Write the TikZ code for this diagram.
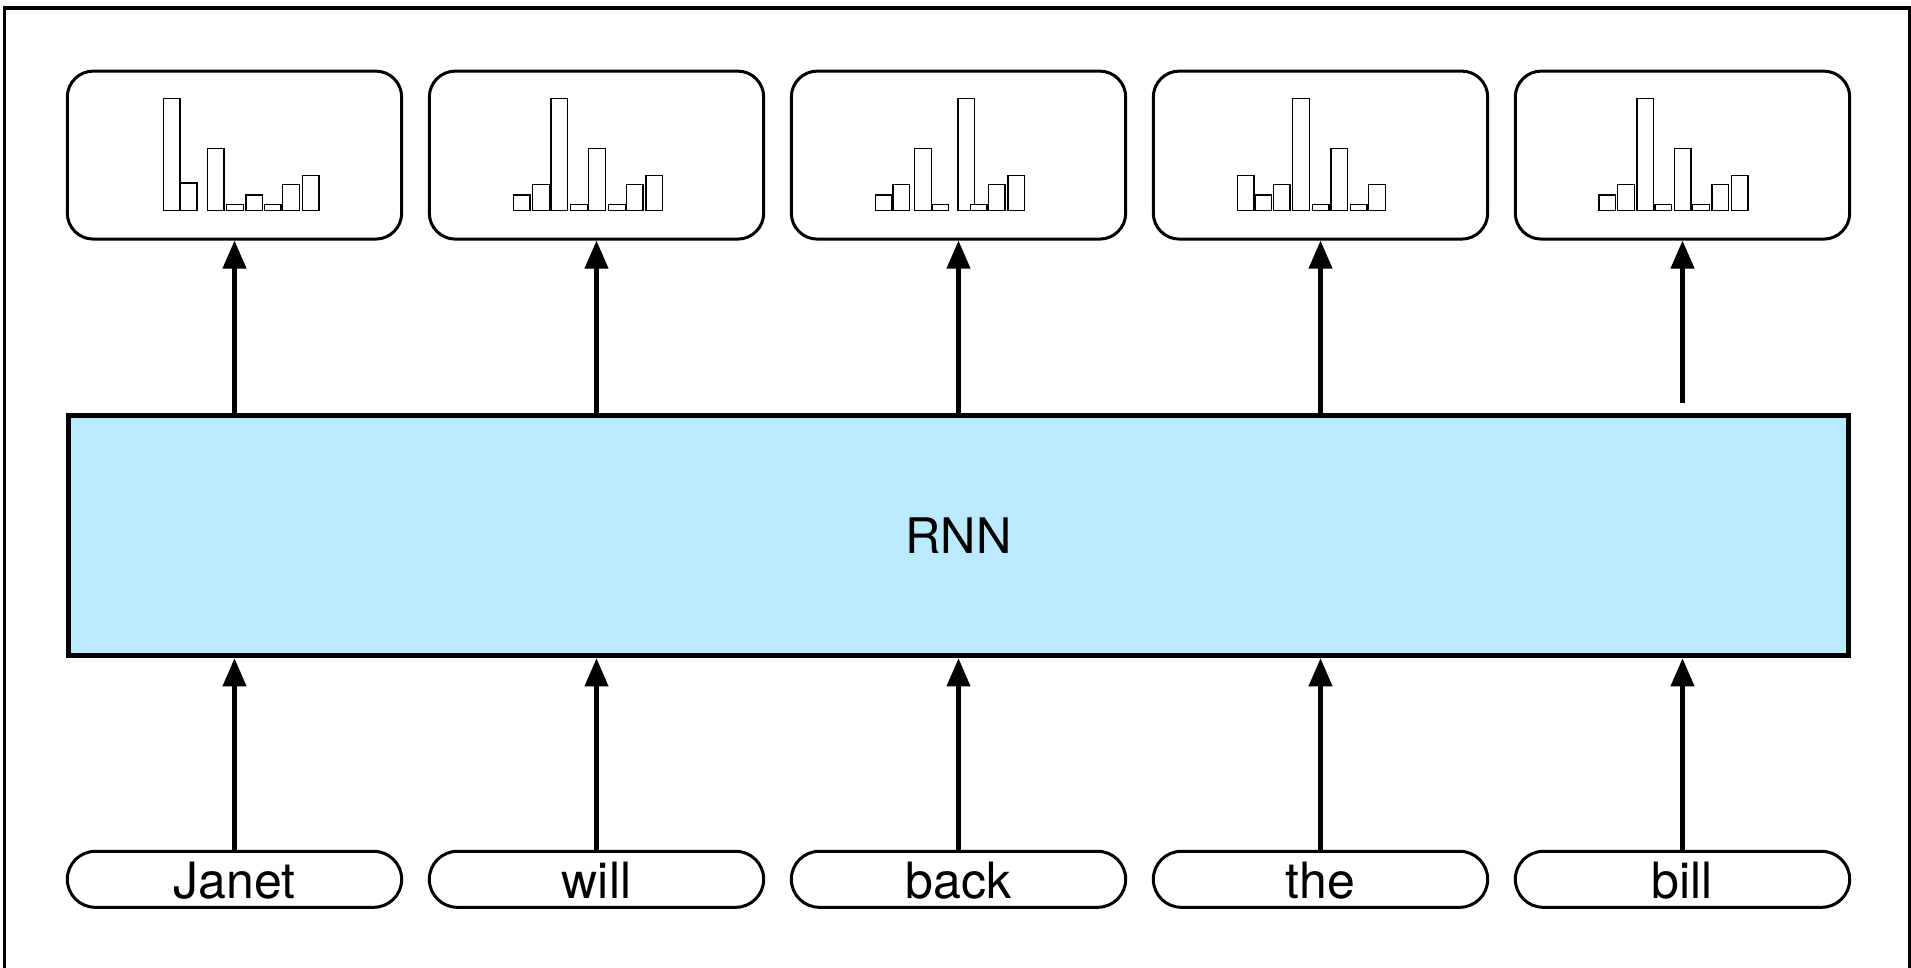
\documentclass[tikz,border=0pt]{standalone}
\usepackage{fontspec}
\setmainfont{TeX Gyre Heros}
\usetikzlibrary{arrows.meta}

\definecolor{rnnblue}{RGB}{187,233,253}

\tikzset{
  outbox/.style={draw, line width=1.5pt, rounded corners=13pt,
    minimum width=167.2pt, minimum height=84pt, inner sep=0pt},
  wordbox/.style={draw, line width=1.5pt, rounded corners=14pt,
    minimum width=167.2pt, minimum height=28pt, inner sep=0pt},
  wordlabel/.style={anchor=base, inner sep=0pt, font=\fontsize{25}{30}\selectfont},
  rnnbox/.style={draw, line width=2.5pt, fill=rnnblue, minimum width=890pt,
    minimum height=120pt, inner sep=0pt, font=\fontsize{24.5}{29}\selectfont},
  bar/.style={draw, line width=0.75pt, fill=white},
  uparrow/.style={line width=2.1pt, -{Triangle[length=14pt,width=11.5pt]}},
  frameline/.style={line width=1.6pt},
}

\begin{document}
\begin{tikzpicture}[x=0.5pt, y=-0.5pt]
\useasboundingbox (0,0) rectangle (1911,968);

% outer frame
\draw[frameline] (4.5,990) -- (4.5,8) -- (1910,8) -- (1910,990);

% recurrent network block
\node[rnnbox] (rnn) at (958.5,535.8) {RNN};

% output distributions and input words
\foreach \i/\cx/\w in {1/234.5/Janet, 2/596.5/will, 3/958.5/back, 4/1320.5/the, 5/1682.5/bill} {
  \node[outbox] (out\i) at (\cx,155.1) {};
  \node[wordbox] (word\i) at (\cx,879.3) {};
  \node[wordlabel] (lab\i) at (\cx,898) {\w};
}

% histogram bars: offset from box centre / bar height
\def\barbase{210.3}
\foreach \cx/\bars in {
  234.5/{-71.2/111.7, -54.2/27.3, -27.2/62, -7.8/6, 11.5/15.3, 29.8/6, 48.2/26, 67.8/35},
  596.5/{-83.2/15.3, -63.8/26, -45.5/111.7, -25.8/6, -7.8/62, 12.2/6, 29.8/26, 49.5/35},
  958.5/{-83.2/15.3, -65.5/26, -43.8/62, -26.5/6, -0.5/111.7, 11.8/6, 29.8/26, 49.5/35},
  1320.5/{-83.2/35, -65.5/15.3, -47.2/26, -27.8/111.7, -8.2/6, 10.5/62, 29.8/6, 48.2/26},
  1682.5/{-83.5/15.3, -64.8/26, -45.5/111.7, -27.5/6, -8.2/62, 10.2/6, 29.5/26, 48.8/35}} {
  \foreach \dx/\h in \bars {
    \draw[bar] ({\cx+\dx},\barbase) rectangle ++(16.7,-\h);
  }
}

% connectors
\foreach \i in {1,...,5} {
  \draw[uparrow] (word\i.north) -- (word\i.north |- rnn.south);
}
\foreach \i in {1,...,4} {
  \draw[uparrow] (out\i.south |- rnn.north) -- (out\i.south);
}
\draw[uparrow, shorten <=5pt] (out5.south |- rnn.north) -- (out5.south);
\end{tikzpicture}
\end{document}
